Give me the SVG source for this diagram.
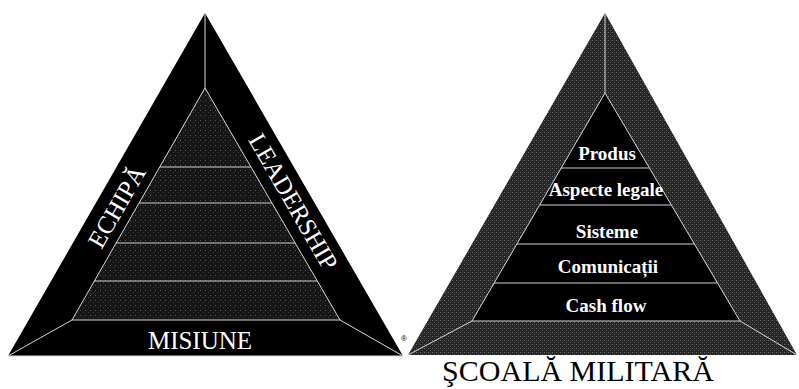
<svg xmlns="http://www.w3.org/2000/svg" width="799" height="389" viewBox="0 0 799 389">
<defs>
<pattern id="grain" width="5" height="5" patternUnits="userSpaceOnUse">
<rect width="5" height="5" fill="#161616"/>
<rect x="0" y="0" width="1" height="1" fill="#5a5a5a"/>
<rect x="3" y="2" width="1" height="1" fill="#3a3a3a"/>
</pattern>
<pattern id="grain2" width="4" height="4" patternUnits="userSpaceOnUse">
<rect width="4" height="4" fill="#262626"/>
<rect x="0" y="0" width="1" height="1" fill="#6a6a6a"/>
<rect x="2" y="2" width="1" height="1" fill="#555"/>
<rect x="2" y="0" width="1" height="1" fill="#3c3c3c"/>
</pattern>
</defs>
<style>
.edge{stroke:#d8d8d8;stroke-width:1;fill:none}
.tier{stroke:#cfcfcf;stroke-width:1}
.side{font-family:"Liberation Serif","Times New Roman",serif;fill:#fff;font-size:25px;text-anchor:middle}
.lvl{font-family:"Liberation Serif","Times New Roman",serif;fill:#fff;font-size:19px;font-weight:bold;text-anchor:middle}
.title{font-family:"Liberation Serif","Times New Roman",serif;fill:#000;font-size:30px;text-anchor:middle}
</style>
<rect width="799" height="389" fill="#fff"/>

<g id="left-pyramid">
<polygon points="8,356 205,13 403,356" fill="#000"/>
<polygon points="72,320 205,88 340,320" fill="url(#grain)"/>
<polygon class="edge" points="72,320 205,88 340,320"/>
<line class="edge" x1="205" y1="13" x2="205" y2="88"/>
<line class="edge" x1="8" y1="356" x2="72" y2="320"/>
<line class="edge" x1="403" y1="356" x2="340" y2="320"/>
<line class="tier" x1="160" y1="167" x2="251" y2="167"/>
<line class="tier" x1="139" y1="203" x2="272" y2="203"/>
<line class="tier" x1="116" y1="243" x2="295" y2="243"/>
<line class="tier" x1="94" y1="281" x2="317" y2="281"/>
<line class="edge" x1="8" y1="356" x2="403" y2="356"/>
</g>

<g id="left-labels">
<text class="side" transform="translate(124,211) rotate(-60)">ECHIPĂ</text>
<text class="side" transform="translate(286,206) rotate(60)">LEADERSHIP</text>
<text class="side" x="200" y="349">MISIUNE</text>
<text x="404" y="341" font-family="Liberation Sans, Arial, sans-serif" font-size="8" fill="#000" text-anchor="middle">®</text>
</g>

<g id="right-pyramid">
<polygon points="408,355 605,13 797,355" fill="url(#grain2)"/>
<polygon points="472,321 605,93 740,321" fill="#000"/>
<polygon class="edge" points="472,321 605,93 740,321"/>
<line class="edge" x1="605" y1="13" x2="605" y2="93"/>
<line class="edge" x1="408" y1="355" x2="472" y2="321"/>
<line class="edge" x1="797" y1="355" x2="740" y2="321"/>
<line class="tier" x1="561" y1="168" x2="649" y2="168"/>
<line class="tier" x1="540" y1="205" x2="671" y2="205"/>
<line class="tier" x1="517" y1="244" x2="694" y2="244"/>
<line class="tier" x1="494" y1="283" x2="717" y2="283"/>
</g>

<g id="right-labels">
<text class="lvl" x="607" y="160">Produs</text>
<text class="lvl" x="606" y="196">Aspecte legale</text>
<text class="lvl" x="607" y="238">Sisteme</text>
<text class="lvl" x="608" y="273">Comunicații</text>
<text class="lvl" x="606" y="312">Cash flow</text>
<text class="title" x="578" y="381">ŞCOALĂ MILITARĂ</text>
</g>
</svg>
